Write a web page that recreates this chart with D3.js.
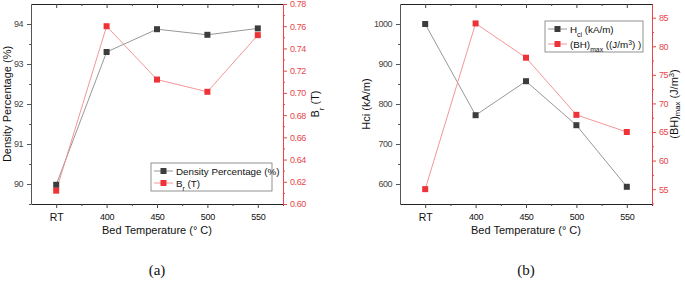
<!DOCTYPE html>
<html>
<head>
<meta charset="utf-8">
<script src="https://cdn.jsdelivr.net/npm/d3@7"></script>
<style>
  body { margin: 0; background: #fff; }
  svg text { font-family: "Liberation Sans", Arial, sans-serif; }
</style>
</head>
<body>
<div id="chart"></div>
<script>
// categories along the x axis
const categories = ["RT", "400", "450", "500", "550"];

// panel (a)
const densityPct = [89.98, 93.30, 93.87, 93.73, 93.89];
const remanenceBr = [0.612, 0.760, 0.712, 0.701, 0.752];
const densityTicks = [90, 91, 92, 93, 94];
const brTicks = [0.60, 0.62, 0.64, 0.66, 0.68, 0.70, 0.72, 0.74, 0.76, 0.78];

// panel (b)
const coercivityHci = [1000, 772, 857, 747, 593];
const energyBHmax = [55.0, 84.0, 78.0, 68.0, 65.0];
const hciTicks = [600, 700, 800, 900, 1000];
const bhTicks = [55, 60, 65, 70, 75, 80, 85];

const GRAY_MARK = "#3d3d3d", GRAY_LINE = "#8c8c8c";
const RED_MARK = "#ee3338", RED_LINE = "#f28a8c", RED_AXIS = "#e8464a";

const svg = d3.select("#chart").append("svg")
  .attr("width", 685).attr("height", 285);

function minorAxis(g, axis, pos, transform, color) {
  g.append("g").attr("transform", transform)
    .call(axis.tickValues(pos).tickFormat("").tickSize(2).tickSizeOuter(0))
    .call(a => a.select(".domain").remove())
    .selectAll("line").attr("stroke", color);
}

function drawPanel(opt) {
  const { left, right, top, bottom } = opt;
  const g = svg.append("g");

  const x = d3.scaleLinear().domain([-0.5, categories.length - 0.5]).range([left, right]);
  const yL = d3.scaleLinear().domain(opt.leftDomain).range([bottom, top]);
  const yR = d3.scaleLinear().domain(opt.rightDomain).range([bottom, top]);

  const catIdx = categories.map((c, i) => i);
  const minorX = d3.range(0, categories.length).map(i => i + 0.5);

  // bottom axis
  const xb = g.append("g").attr("transform", `translate(0,${bottom})`)
    .call(d3.axisBottom(x).tickValues(catIdx).tickFormat(i => categories[i])
      .tickSize(4).tickSizeOuter(0).tickPadding(6));
  xb.selectAll("text").attr("fill", "#111")
    .attr("font-size", (d, i) => i === 0 ? 10.5 : 9)
    .attr("letter-spacing", (d, i) => i === 0 ? 0 : -0.3);
  xb.select(".domain").attr("stroke", "#222");
  xb.selectAll("line").attr("stroke", "#444");
  minorAxis(g, d3.axisBottom(x), minorX, `translate(0,${bottom})`, "#444");

  // top axis (mirror, inward ticks)
  const xt = g.append("g").attr("transform", `translate(0,${top})`)
    .call(d3.axisBottom(x).tickValues(catIdx).tickFormat("").tickSize(4).tickSizeOuter(0));
  xt.select(".domain").attr("stroke", "#222");
  xt.selectAll("line").attr("stroke", "#444");
  minorAxis(g, d3.axisBottom(x), minorX, `translate(0,${top})`, "#444");

  // left axis
  const ya = g.append("g").attr("transform", `translate(${left},0)`)
    .call(d3.axisLeft(yL).tickValues(opt.leftTicks).tickFormat(opt.leftFormat)
      .tickSize(4).tickSizeOuter(0).tickPadding(4));
  ya.selectAll("text").attr("font-size", 9).attr("letter-spacing", -0.5).attr("fill", "#444");
  ya.select(".domain").attr("stroke", "#555");
  ya.selectAll("line").attr("stroke", "#555");
  minorAxis(g, d3.axisLeft(yL), opt.leftMinor, `translate(${left},0)`, "#555");

  // right axis (red)
  const yr = g.append("g").attr("transform", `translate(${right},0)`)
    .call(d3.axisRight(yR).tickValues(opt.rightTicks).tickFormat(opt.rightFormat)
      .tickSize(4).tickSizeOuter(0).tickPadding(3));
  yr.selectAll("text").attr("font-size", 9).attr("letter-spacing", -0.4).attr("fill", RED_AXIS);
  yr.select(".domain").attr("stroke", RED_AXIS);
  yr.selectAll("line").attr("stroke", RED_AXIS);
  minorAxis(g, d3.axisRight(yR), opt.rightMinor, `translate(${right},0)`, RED_AXIS);

  // series
  const lineL = d3.line().x((d, i) => x(i)).y(d => yL(d));
  const lineR = d3.line().x((d, i) => x(i)).y(d => yR(d));

  g.append("path").datum(opt.leftData).attr("fill", "none")
    .attr("stroke", GRAY_LINE).attr("stroke-width", 0.9).attr("d", lineL);
  g.append("path").datum(opt.rightData).attr("fill", "none")
    .attr("stroke", RED_LINE).attr("stroke-width", 0.9).attr("d", lineR);

  g.selectAll(null).data(opt.leftData).enter().append("rect")
    .attr("x", (d, i) => x(i) - 3).attr("y", d => yL(d) - 3)
    .attr("width", 6).attr("height", 6).attr("fill", GRAY_MARK);
  g.selectAll(null).data(opt.rightData).enter().append("rect")
    .attr("x", (d, i) => x(i) - 3).attr("y", d => yR(d) - 3)
    .attr("width", 6).attr("height", 6).attr("fill", RED_MARK);

  // axis titles
  const cx = (left + right) / 2;
  g.append("text").attr("x", cx).attr("y", 234).attr("text-anchor", "middle")
    .attr("font-size", 11).attr("fill", "#111").text("Bed Temperature (° C)");

  const lt = g.append("text")
    .attr("transform", `translate(${opt.leftTitleX},${(top + bottom) / 2}) rotate(-90)`)
    .attr("text-anchor", "middle").attr("font-size", 11).attr("fill", "#111");
  opt.leftTitle(lt);

  const rt = g.append("text")
    .attr("transform", `translate(${opt.rightTitleX},${(top + bottom) / 2}) rotate(-90)`)
    .attr("text-anchor", "middle").attr("font-size", 11).attr("fill", "#111");
  opt.rightTitle(rt);

  // panel caption
  g.append("text").attr("x", cx).attr("y", 275).attr("text-anchor", "middle")
    .attr("font-size", 15).style("font-family", "'Liberation Serif', serif")
    .attr("fill", "#111").text(opt.caption);

  // legend
  const L = opt.legend;
  const lg = g.append("g").attr("transform", `translate(${L.x},${L.y})`);
  lg.append("rect").attr("width", L.w).attr("height", L.h)
    .attr("fill", "#fff").attr("stroke", "#777").attr("stroke-width", 0.8);
  const rows = [
    { line: GRAY_LINE, mark: GRAY_MARK, label: L.labels[0] },
    { line: RED_LINE, mark: RED_MARK, label: L.labels[1] }
  ];
  rows.forEach((r, i) => {
    const ry = L.rowY[i];
    lg.append("line").attr("x1", 3).attr("x2", 22).attr("y1", ry).attr("y2", ry)
      .attr("stroke", r.line).attr("stroke-width", 0.9);
    lg.append("rect").attr("x", 9.5).attr("y", ry - 3).attr("width", 6).attr("height", 6)
      .attr("fill", r.mark);
    const t = lg.append("text").attr("x", 25).attr("y", ry + 3.5)
      .attr("font-size", 9.8).attr("fill", "#111");
    r.label(t);
  });
}

function sub(t, base, s, rest) {
  t.append("tspan").text(base);
  t.append("tspan").attr("font-size", "0.7em").attr("baseline-shift", "sub").text(s);
  if (rest) t.append("tspan").text(rest);
}

drawPanel({
  left: 31, right: 283, top: 4, bottom: 204,
  leftDomain: [89.5, 94.5], rightDomain: [0.60, 0.78],
  leftTicks: densityTicks, leftMinor: densityTicks.map(v => v + 0.5).concat([89.5]).filter(v => v < 94.5),
  leftFormat: d3.format("d"),
  rightTicks: brTicks,
  rightMinor: brTicks.slice(0, -1).map(v => v + 0.01),
  rightFormat: d3.format(".2f"),
  leftData: densityPct, rightData: remanenceBr,
  leftTitleX: 11, rightTitleX: 319,
  leftTitle: t => t.text("Density Percentage (%)"),
  rightTitle: t => sub(t, "B", "r", " (T)"),
  caption: "(a)",
  legend: {
    x: 151, y: 163, w: 121, h: 28, rowY: [8, 20],
    labels: [t => t.text("Density Percentage (%)"), t => sub(t, "B", "r", " (T)")]
  }
});

drawPanel({
  left: 400, right: 652, top: 4, bottom: 204,
  leftDomain: [550, 1050], rightDomain: [52.4, 87.4],
  leftTicks: hciTicks, leftMinor: hciTicks.map(v => v + 50).filter(v => v < 1050),
  leftFormat: d3.format("d"),
  rightTicks: bhTicks,
  rightMinor: bhTicks.map(v => v + 2.5).concat([52.5]).filter(v => v < 87.4),
  rightFormat: d3.format("d"),
  leftData: coercivityHci, rightData: energyBHmax,
  leftTitleX: 370, rightTitleX: 678,
  leftTitle: t => t.text("Hci (kA/m)"),
  rightTitle: t => {
    t.append("tspan").text("(BH)");
    t.append("tspan").attr("font-size", "0.7em").attr("baseline-shift", "-20%").text("max");
    t.append("tspan").text(" (J/m");
    t.append("tspan").attr("font-size", "0.7em").attr("baseline-shift", "super").text("3");
    t.append("tspan").text(")");
  },
  caption: "(b)",
  legend: {
    x: 545, y: 21, w: 98, h: 31, rowY: [8, 23],
    labels: [
      t => sub(t, "H", "ci", " (kA/m)"),
      t => {
        t.append("tspan").text("(BH)");
        t.append("tspan").attr("font-size", "0.7em").attr("baseline-shift", "sub").text("max");
        t.append("tspan").text(" ((J/m");
        t.append("tspan").attr("font-size", "0.7em").attr("baseline-shift", "super").text("3");
        t.append("tspan").text(") )");
      }
    ]
  }
});
</script>
</body>
</html>
